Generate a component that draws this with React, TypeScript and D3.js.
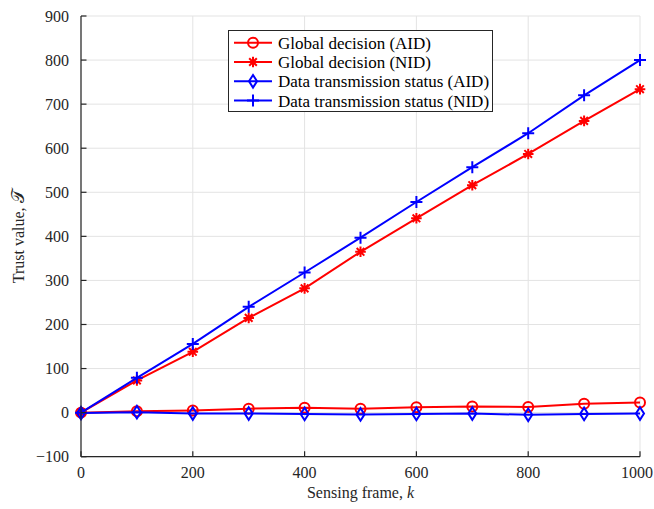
import React from "react";
import * as d3 from "d3";

const frames = [0, 100, 200, 300, 400, 500, 600, 700, 800, 900, 1000];
const globalAID = [0, 3, 5, 9, 11, 9, 12, 14, 13, 20, 23];
const globalNID = [0, 73, 138, 215, 282, 365, 441, 516, 587, 662, 734];
const dataAID = [-1, 1, -2, -2, -3, -4, -3, -2, -5, -3, -2];
const dataNID = [0, 79, 156, 240, 318, 397, 478, 557, 634, 720, 800];
const xTicks = [0, 200, 400, 600, 800, 1000];
const yTicks = [-100, 0, 100, 200, 300, 400, 500, 600, 700, 800, 900];
const legendLabels = [
  "Global decision (AID)",
  "Global decision (NID)",
  "Data transmission status (AID)",
  "Data transmission status (NID)",
];

const W = 654, H = 509;
const L = 81, R = 640, T = 16, B = 456.7;
const FONT = "'Liberation Serif', 'Times New Roman', serif";

type MarkerKind = "circle" | "star" | "diamond" | "plus";

function Marker({ kind, x, y, color }: { kind: MarkerKind; x: number; y: number; color: string }) {
  const sw = 2;
  if (kind === "circle") return <circle cx={x} cy={y} r={5} fill="none" stroke={color} strokeWidth={sw} />;
  if (kind === "diamond") {
    return (
      <path
        d={`M${x},${y - 6.3}L${x + 4},${y}L${x},${y + 6.3}L${x - 4},${y}Z`}
        fill="none"
        stroke={color}
        strokeWidth={sw}
      />
    );
  }
  if (kind === "plus") {
    const s = 6;
    return <path d={`M${x - s},${y}L${x + s},${y}M${x},${y - s}L${x},${y + s}`} stroke={color} strokeWidth={sw} />;
  }
  const s = 5.3, d = s * 0.72;
  return (
    <path
      d={`M${x - s},${y}L${x + s},${y}M${x},${y - s}L${x},${y + s}M${x - d},${y - d}L${x + d},${y + d}M${x - d},${y + d}L${x + d},${y - d}`}
      stroke={color}
      strokeWidth={sw}
    />
  );
}

export default function App() {
  const x = d3.scaleLinear().domain([0, 1000]).range([L, R]);
  const y = d3.scaleLinear().domain([-100, 900]).range([B, T]);
  const line = d3
    .line<[number, number]>()
    .x((d) => x(d[0]))
    .y((d) => y(d[1]));

  const series: { vals: number[]; color: string; kind: MarkerKind; label: string }[] = [
    { vals: globalAID, color: "#ff0000", kind: "circle", label: legendLabels[0] },
    { vals: globalNID, color: "#ff0000", kind: "star", label: legendLabels[1] },
    { vals: dataAID, color: "#0000ff", kind: "diamond", label: legendLabels[2] },
    { vals: dataNID, color: "#0000ff", kind: "plus", label: legendLabels[3] },
  ];

  const axisColor = "#262626";
  const gridColor = "#e3e3e3";

  return (
    <svg width={W} height={H} style={{ position: "absolute", left: 0, top: 0, background: "#fff" }} fontFamily={FONT}>
      <rect x={0} y={0} width={W} height={H} fill="#fff" />
      {/* grid */}
      {xTicks.map((t) => (
        <line key={"gx" + t} x1={x(t)} x2={x(t)} y1={T} y2={B} stroke={gridColor} strokeWidth={1} />
      ))}
      {yTicks.map((t) => (
        <line key={"gy" + t} x1={L} x2={R} y1={y(t)} y2={y(t)} stroke={gridColor} strokeWidth={1} />
      ))}
      {/* series */}
      {series.map((s, i) => {
        const pts = frames.map((f, j) => [f, s.vals[j]] as [number, number]);
        return (
          <g key={i}>
            <path d={line(pts) || ""} fill="none" stroke={s.color} strokeWidth={2} />
            {pts.map((p, j) => (
              <Marker key={j} kind={s.kind} x={x(p[0])} y={y(p[1])} color={s.color} />
            ))}
          </g>
        );
      })}
      {/* axes */}
      <line x1={L} x2={L} y1={T} y2={B} stroke={axisColor} strokeWidth={1.2} />
      <line x1={L} x2={R} y1={B} y2={B} stroke={axisColor} strokeWidth={1.2} />
      {yTicks.map((t) => (
        <g key={"ty" + t}>
          <line x1={L} x2={L + 5.5} y1={y(t)} y2={y(t)} stroke={axisColor} strokeWidth={1.2} />
          <text x={L - 12} y={y(t)} dy="0.35em" textAnchor="end" fontSize={16} fill={axisColor}>
            {t < 0 ? "\u2212" + Math.abs(t) : t}
          </text>
        </g>
      ))}
      {xTicks.map((t, i) => {
        const last = i === xTicks.length - 1;
        return (
          <g key={"tx" + t}>
            <line x1={x(t)} x2={x(t)} y1={B} y2={B - 5.5} stroke={axisColor} strokeWidth={1.2} />
            <text
              x={last ? W - 1 : x(t)}
              y={478}
              textAnchor={last ? "end" : "middle"}
              fontSize={16}
              fill={axisColor}
            >
              {t}
            </text>
          </g>
        );
      })}
      {/* axis labels */}
      <text x={(L + R) / 2} y={498} textAnchor="middle" fontSize={16} fill={axisColor}>
        Sensing frame, <tspan fontStyle="italic">k</tspan>
      </text>
      <text
        transform={`translate(24, ${(T + B) / 2}) rotate(-90)`}
        textAnchor="middle"
        fontSize={16}
        fill={axisColor}
      >
        Trust value, <tspan fontSize={18}>{"\u{1D4AF}"}</tspan>
      </text>
      {/* legend */}
      <rect x={228.5} y={30.5} width={264} height={81} fill="#fff" stroke={axisColor} strokeWidth={1} />
      {series.map((s, i) => {
        const ly = 42.7 + i * 19.3;
        return (
          <g key={"lg" + i}>
            <line x1={234} x2={272} y1={ly} y2={ly} stroke={s.color} strokeWidth={2} />
            <Marker kind={s.kind} x={253} y={ly} color={s.color} />
            <text x={278} y={ly} dy="0.35em" fontSize={17} fill="#000">
              {s.label}
            </text>
          </g>
        );
      })}
    </svg>
  );
}
